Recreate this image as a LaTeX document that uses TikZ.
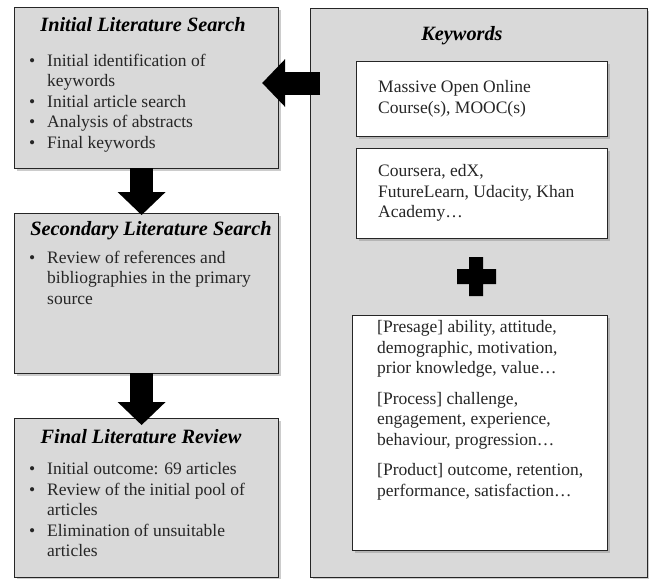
\documentclass[tikz,border=0pt]{standalone}
\usepackage{fontspec}
\setmainfont{Liberation Serif}
\usetikzlibrary{arrows.meta,%
                shadows,%
                positioning}

\newcommand{\listdot}{\makebox[18pt][l]{\textbullet}}
\newcommand{\itemgap}{\hspace*{18pt}}

\begin{document}
\begin{tikzpicture}[x=1pt,y=-1pt]
		\tikzstyle{StageBox}=[draw=black!85,line width=1.2pt,fill=black!15,anchor=north west,inner sep=0pt,
			drop shadow={shadow xshift=2pt,shadow yshift=-2pt,opacity=0.4}]
		\tikzstyle{KeyBox}=[StageBox,fill=white]
		\tikzstyle{TitleStyle}=[font=\fontsize{20.3}{24}\selectfont\bfseries\itshape,anchor=base,inner sep=0pt]
		\tikzstyle{TextStyle}=[font=\fontsize{17.5}{20.5}\selectfont,text=black!85,align=left,anchor=north west,inner sep=0pt]
		\tikzstyle{ArrowStyle}=[line width=23pt,-{Triangle[width=48pt,length=23pt,line width=0pt]}]
		\useasboundingbox (0,0) rectangle (649,579);

		% search stages
		\node[StageBox,minimum width=264pt,minimum height=161pt] (initial) at (14,7) {};
		\node[StageBox,minimum width=264pt,minimum height=160pt] (secondary) at (14,213) {};
		\node[StageBox,minimum width=264pt,minimum height=159pt] (final) at (14,418) {};

		\node[TitleStyle] (initialtitle) at (143,31) {Initial Literature Search};
		\node[TextStyle] (initialtext) at (29,53.5) {\listdot Initial identification of\\
			\itemgap keywords\\
			\listdot Initial article search\\
			\listdot Analysis of abstracts\\
			\listdot Final keywords};

		\node[TitleStyle] (secondarytitle) at (151,235) {Secondary Literature Search};
		\node[TextStyle] (secondarytext) at (29,250.5) {\listdot Review of references and\\
			\itemgap bibliographies in the primary\\
			\itemgap source};

		\node[TitleStyle] (finaltitle) at (141,443) {Final Literature Review};
		\node[TextStyle] (finaltext) at (29,462.5) {\listdot Initial outcome: 69 articles\\
			\listdot Review of the initial pool of\\
			\itemgap articles\\
			\listdot Elimination of unsuitable\\
			\itemgap articles};

		% keywords panel
		\node[StageBox,minimum width=337pt,minimum height=569pt] (panel) at (310,8) {};
		\node[TitleStyle] (paneltitle) at (462,40) {Keywords};

		\node[KeyBox,minimum width=251pt,minimum height=75pt] (mooc) at (356,61) {};
		\node[TextStyle] (mooctext) at (378,80.5) {Massive Open Online\\Course(s), MOOC(s)};

		\node[KeyBox,minimum width=251pt,minimum height=90pt] (platform) at (356,148) {};
		\node[TextStyle] (platformtext) at (378,164.5) {Coursera, edX,\\FutureLearn, Udacity, Khan\\Academy…};

		\fill (457,269) -- (469,269) -- (469,257) -- (483,257) -- (483,269) -- (496,269)
			-- (496,284) -- (483,284) -- (483,296) -- (469,296) -- (469,284) -- (457,284) -- cycle;

		\node[KeyBox,minimum width=255pt,minimum height=235pt] (factors) at (352,315) {};
		\node[TextStyle] (factorstext) at (377,320.5) {[Presage] ability, attitude,\\
			demographic, motivation,\\
			prior knowledge, value…\\[10pt]
			[Process] challenge,\\
			engagement, experience,\\
			behaviour, progression…\\[10pt]
			[Product] outcome, retention,\\
			performance, satisfaction…};

		% block arrows
		\draw[ArrowStyle] ([xshift=-5pt,yshift=1pt]initial.south) -- ([xshift=-5pt,yshift=-2pt]secondary.north);
		\draw[ArrowStyle] ([xshift=-5pt,yshift=1pt]secondary.south) -- ([xshift=-5pt,yshift=-7pt]final.north);
		\draw[ArrowStyle] ([xshift=10pt,yshift=-75pt]panel.north west) -- ([xshift=-17pt,yshift=-76pt]initial.north east);
\end{tikzpicture}
\end{document}
